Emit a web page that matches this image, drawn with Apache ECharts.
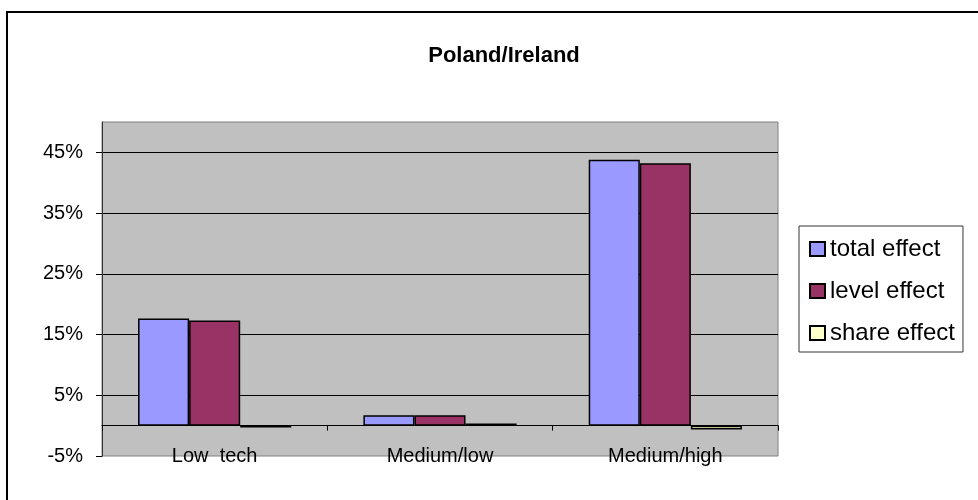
<!DOCTYPE html>
<html>
<head>
<meta charset="utf-8">
<script src="https://cdn.jsdelivr.net/npm/echarts@6/dist/echarts.min.js"></script>
<style>
html,body{margin:0;padding:0;background:#fff;}
#chart{width:978px;height:500px;}
</style>
</head>
<body>
<div id="chart"></div>
<script>
var title = 'Poland/Ireland';
var categories = ['Low  tech', 'Medium/low', 'Medium/high'];
var seriesNames = ['total effect', 'level effect', 'share effect'];
var totalEffect = [17.65, 1.7, 43.8];
var levelEffect = [17.3, 1.7, 43.2];
var shareEffect = [-0.3, 0.35, -0.65];
var yTicks = [-5, 5, 15, 25, 35, 45];

var font = 'Liberation Sans, Arial, sans-serif';
var chart = echarts.init(document.getElementById('chart'));
var colors = ['#9999FF', '#993366', '#FFFFCC'];
var values = [totalEffect, levelEffect, shareEffect];

chart.setOption({
  animation: false,
  backgroundColor: '#ffffff',
  title: {
    text: title,
    left: 499,
    top: 40,
    textAlign: 'center',
    textStyle: {fontFamily: font, fontSize: 22, fontWeight: 'bold', color: '#000'}
  },
  graphic: [{
    type: 'rect',
    shape: {x: 7, y: 12, width: 1000, height: 1000},
    style: {fill: 'none', stroke: '#000', lineWidth: 2},
    silent: true
  }],
  legend: {
    orient: 'vertical',
    left: 799,
    top: 226,
    padding: [11, 8, 7, 10],
    itemGap: 18,
    itemWidth: 15,
    itemHeight: 14,
    icon: 'rect',
    borderColor: '#333',
    borderWidth: 1,
    backgroundColor: '#fff',
    textStyle: {fontFamily: font, fontSize: 24, color: '#000'},
    data: seriesNames
  },
  grid: {left: 102, right: 200, top: 122, bottom: 44, show: true,
         backgroundColor: '#C0C0C0', borderColor: '#808080', borderWidth: 1},
  xAxis: {
    type: 'category',
    data: categories,
    axisLine: {onZero: true, lineStyle: {color: '#000', width: 1}},
    axisTick: {show: true, length: 5, lineStyle: {color: '#000'}},
    axisLabel: {fontFamily: font, fontSize: 20, color: '#000', margin: -10},
    splitLine: {show: false}
  },
  yAxis: {
    type: 'value',
    min: -5,
    max: 50,
    interval: 10,
    axisLine: {show: true, lineStyle: {color: '#333', width: 1}},
    axisTick: {show: true, length: 6, customValues: yTicks, lineStyle: {color: '#000'}},
    axisLabel: {fontFamily: font, fontSize: 20, color: '#000', margin: 19,
                customValues: yTicks,
                formatter: function (v) { return v + '%'; }},
    splitLine: {show: true, showMinLine: false,
                lineStyle: {color: '#000', width: 1}}
  },
  series: seriesNames.map(function (n, i) {
    return {
      name: n,
      type: 'bar',
      data: values[i],
      barGap: '0%',
      barCategoryGap: '32%',
      itemStyle: {color: colors[i], borderColor: '#000', borderWidth: 1.5}
    };
  })
});
</script>
</body>
</html>
